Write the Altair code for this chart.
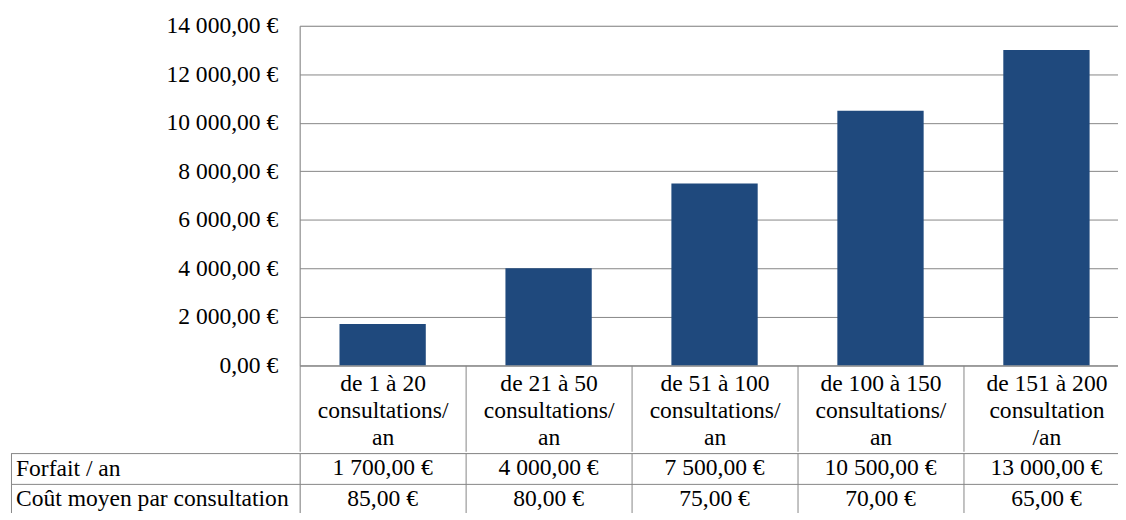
import altair as alt
import pandas as pd

# ---- data ----
category_lines = [
    ["de 1 à 20", "consultations/", "an"],
    ["de 21 à 50", "consultations/", "an"],
    ["de 51 à 100", "consultations/", "an"],
    ["de 100 à 150", "consultations/", "an"],
    ["de 151 à 200", "consultation", "/an"],
]
forfait = [1700, 4000, 7500, 10500, 13000]
cout_moyen = [85, 80, 75, 70, 65]
row_labels = ["Forfait / an", "Coût moyen par consultation"]
y_ticks = [0, 2000, 4000, 6000, 8000, 10000, 12000, 14000]

categories = ["|".join(l) for l in category_lines]


def euro(v):
    return f"{v:,.2f}".replace(",", " ").replace(".", ",") + " €"


FONT = "'Liberation Serif', 'Times New Roman', Times, 'DejaVu Serif', serif"
FS = 23.7
GRID = "#868686"
BAR = "#1F497D"
W = 835
H_TOP = 341.7
H_HEAD = 86.5
H_ROWS = 61

bars_df = pd.DataFrame({"cat": categories, "forfait": forfait})

table_rows = []
for c, f, m in zip(categories, forfait, cout_moyen):
    table_rows.append({"cat": c, "row": row_labels[0], "text": euro(f)})
    table_rows.append({"cat": c, "row": row_labels[1], "text": euro(m)})
table_df = pd.DataFrame(table_rows)

euro_expr = "replace(replace(format(datum.value, ',.2f'), ',', ' '), '.', ',') + ' €'"

top = alt.Chart(bars_df).mark_bar(color=BAR, width=alt.RelativeBandSize(0.52)).encode(
    x=alt.X(
        "cat:N", sort=categories, title=None,
        scale=alt.Scale(paddingInner=0, paddingOuter=0),
        axis=alt.Axis(
            labelExpr="split(datum.label, '|')", labelAngle=0, labelFont=FONT,
            labelFontSize=FS, labelColor="black", labelLineHeight=27.3,
            labelPadding=-(H_HEAD - 6), labelBaseline="top", labelLimit=0,
            tickBand="extent", tickSize=H_HEAD, tickColor=GRID, tickWidth=1,
            domainColor=GRID, domainWidth=1, grid=False,
        ),
    ),
    y=alt.Y(
        "forfait:Q", title=None,
        scale=alt.Scale(domain=[0, 14000], nice=False),
        axis=alt.Axis(
            values=y_ticks, labelExpr=euro_expr, labelFont=FONT, labelFontSize=FS,
            labelColor="black", labelPadding=22, ticks=False, domainColor=GRID,
            domainWidth=1, grid=True, gridColor=GRID, gridWidth=1, labelLimit=0,
        ),
    ),
).properties(width=W, height=H_TOP)

x_table = alt.X(
    "cat:N", sort=categories, title=None,
    scale=alt.Scale(paddingInner=0, paddingOuter=0),
    axis=alt.Axis(labels=False, ticks=False, domain=False, grid=True,
                  tickBand="extent", gridColor=GRID, gridWidth=1),
)
y_table = alt.Y(
    "row:N", sort=row_labels, title=None,
    scale=alt.Scale(paddingInner=0, paddingOuter=0),
    axis=alt.Axis(
        labelFont=FONT, labelFontSize=FS, labelColor="black", labelAlign="left",
        labelBaseline="middle", labelPadding=-4, labelLimit=0,
        tickBand="extent", tickSize=290, tickColor=GRID, tickWidth=1,
        domain=False, grid=True, gridColor=GRID, gridWidth=1,
    ),
)

cells = alt.Chart(table_df).mark_text(
    font=FONT, fontSize=FS, color="black", baseline="middle", align="center"
).encode(x=x_table, y=y_table, text="text:N")

left_border = alt.Chart(pd.DataFrame({"b": [0]})).mark_rule(
    color=GRID, strokeWidth=1
).encode(x=alt.value(-290), y=alt.value(0), y2=alt.value(H_ROWS))

bottom = alt.layer(cells, left_border).properties(width=W, height=H_ROWS)

chart = alt.vconcat(top, bottom, spacing=-17.5).properties(
    padding={"left": 2.5, "top": 3.3, "right": -12.5, "bottom": -3.5}
).configure_view(stroke=None).configure(font=FONT)

chart.save("out.html", embed_options={"renderer": "svg", "actions": False})
